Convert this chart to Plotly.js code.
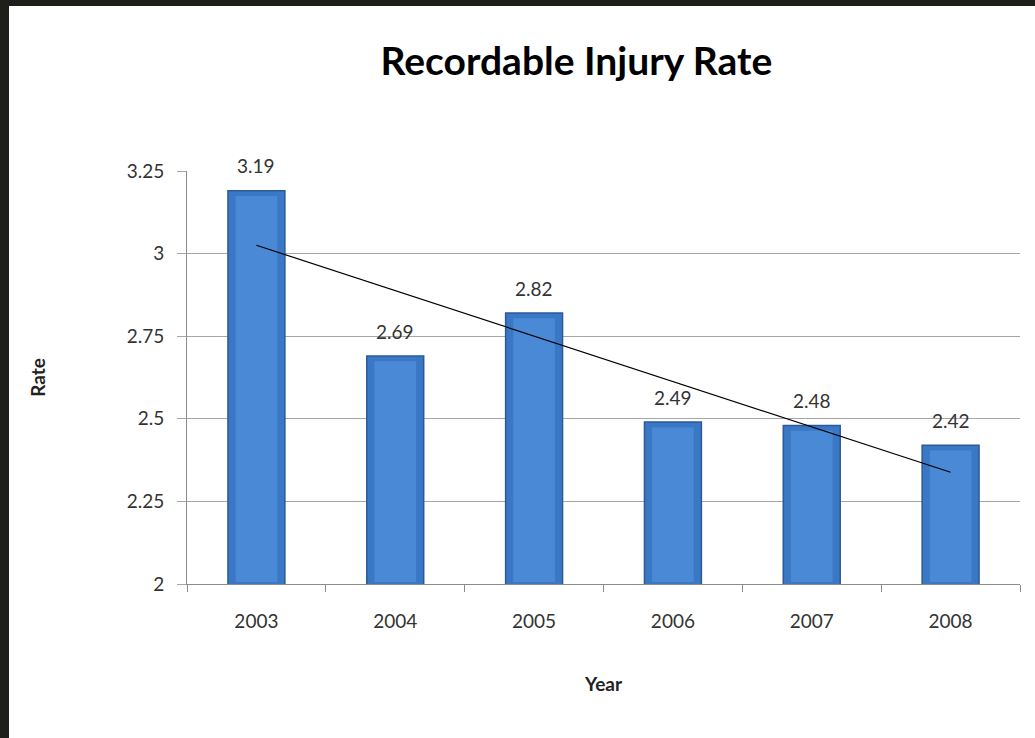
<!DOCTYPE html>
<html>
<head>
<meta charset="utf-8">
<script src="https://cdn.plot.ly/plotly-3.0.1.min.js"></script>
<style>
  html, body { margin: 0; padding: 0; background: #1e1f1a; width: 1035px; height: 738px; overflow: hidden; }
  #chart { position: absolute; left: 9px; top: 6px; width: 1026px; height: 732px; background: #ffffff; }
</style>
</head>
<body>
<div id="chart"></div>
<script>
const years = ['2003', '2004', '2005', '2006', '2007', '2008'];
const rates = [3.19, 2.69, 2.82, 2.49, 2.48, 2.42];
const yTickVals = [2, 2.25, 2.5, 2.75, 3, 3.25];
const yTickText = ['2', '2.25', '2.5', '2.75', '3', '3.25'];

// Linear trendline (least squares fit of the data)
const n = rates.length;
const xs = rates.map((_, i) => i + 1);
const mx = xs.reduce((a, b) => a + b, 0) / n;
const my = rates.reduce((a, b) => a + b, 0) / n;
let sxy = 0, sxx = 0;
for (let i = 0; i < n; i++) { sxy += (xs[i] - mx) * (rates[i] - my); sxx += (xs[i] - mx) ** 2; }
const slope = sxy / sxx;
const trend = xs.map(x => my + slope * (x - mx));

const font = 'Lato, "Open Sans", sans-serif';

const bars = {
  type: 'bar',
  x: years,
  y: rates,
  marker: { color: '#3a78c6', line: { color: '#2a5a98', width: 1.5 } },
  hoverinfo: 'x+y',
  cliponaxis: false
};
const highlight = {
  type: 'bar',
  x: years,
  y: rates.map(v => v - 2.022),
  base: 2.006,
  width: 0.3,
  marker: { color: '#4a89d5', line: { width: 0 } },
  hoverinfo: 'skip',
  cliponaxis: false
};
const trendLine = {
  type: 'scatter',
  mode: 'lines',
  x: years,
  y: trend,
  line: { color: '#000000', width: 1.2 },
  hoverinfo: 'skip'
};

const annotations = years.map((yr, i) => ({
  x: i, y: rates[i], xref: 'x', yref: 'y',
  text: rates[i].toFixed(2),
  showarrow: false, yshift: 25,
  font: { family: font, size: 19, color: '#333333' }
}));

const layout = {
  width: 1026, height: 732,
  paper_bgcolor: '#ffffff', plot_bgcolor: '#ffffff',
  margin: { l: 178, r: 15, t: 165, b: 154 },
  showlegend: false,
  barmode: 'overlay',
  bargap: 0.59,
  title: {
    text: '<b>Recordable Injury Rate</b>',
    font: { family: font, size: 39, color: '#000000' },
    x: 0.553, xanchor: 'center', y: 0.925, yanchor: 'middle'
  },
  xaxis: {
    type: 'category',
    categoryorder: 'array', categoryarray: years,
    range: [-0.5, 5.5],
    showgrid: false,
    showline: true, linecolor: '#8c8c8c', linewidth: 1,
    ticks: 'outside', tickson: 'boundaries', ticklen: 7, tickcolor: '#8c8c8c',
    tickfont: { family: font, size: 19, color: '#333333' },
    tickangle: 0,
    ticklabelstandoff: 20,
    title: { text: '<b>Year</b>', font: { family: font, size: 19, color: '#222222' }, standoff: 46 },
    zeroline: false
  },
  yaxis: {
    range: [2, 3.25],
    tickvals: yTickVals, ticktext: yTickText,
    showgrid: true, gridcolor: '#a6a6a6', gridwidth: 1,
    showline: true, linecolor: '#8c8c8c', linewidth: 1,
    ticks: 'outside', ticklen: 9, tickcolor: '#a6a6a6',
    ticklabelstandoff: 9,
    tickfont: { family: font, size: 19, color: '#333333' },
    title: { text: '<b>Rate</b>', font: { family: font, size: 19, color: '#222222' }, standoff: 76 },
    zeroline: false
  },
  annotations: annotations
};

Plotly.newPlot('chart', [bars, highlight, trendLine], layout, { displayModeBar: false, staticPlot: true });
</script>
</body>
</html>
